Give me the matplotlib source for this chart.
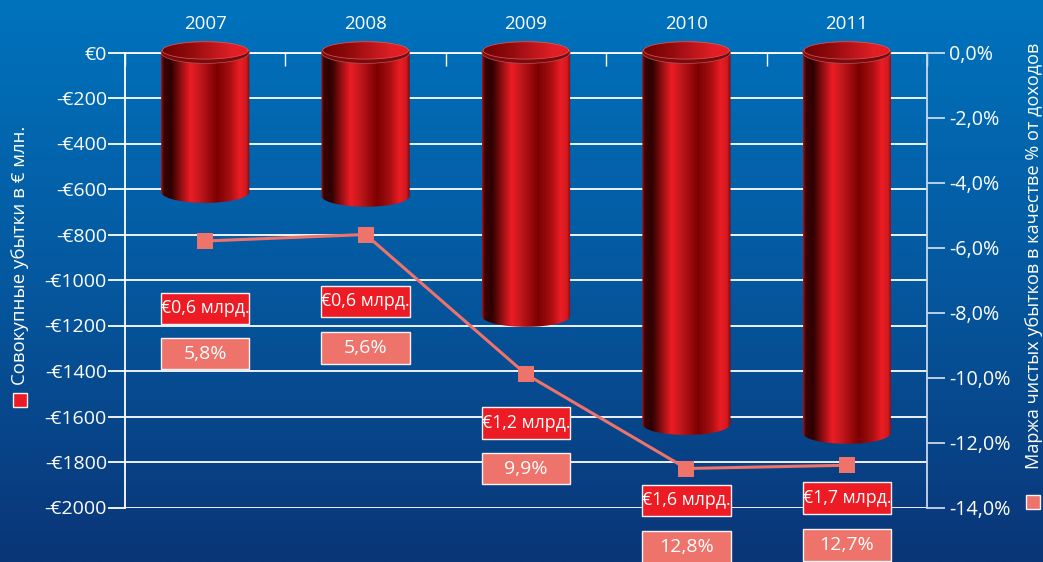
import numpy as np
import matplotlib
matplotlib.use('Agg')
import matplotlib.pyplot as plt
from matplotlib.colors import LinearSegmentedColormap
from matplotlib.patches import Ellipse, Rectangle
from matplotlib.path import Path

plt.rcParams['font.family'] = ['Open Sans', 'DejaVu Sans']

years = ['2007', '2008', '2009', '2010', '2011']
losses = [613, 630, 1158, 1633, 1672]	# mln euro
margins = [-5.8, -5.6, -9.9, -12.8, -12.7]
loss_labels = ['€0,6 млрд.', '€0,6 млрд.', '€1,2 млрд.', '€1,6 млрд.', '€1,7 млрд.']
margin_labels = ['5,8%', '5,6%', '9,9%', '12,8%', '12,7%']
left_ticks = [0, -200, -400, -600, -800, -1000, -1200, -1400, -1600, -1800, -2000]
right_ticks = [0, -2, -4, -6, -8, -10, -12, -14]

# layout of the label boxes, in left axis units (top edge)
loss_box_top = [-1055, -1025, -1560, -1900, -1890]
margin_box_top = [-1255, -1230, -1760, -2105, -2095]

W, H = 1043, 562
WHITE = '#ffffff'
PALE = '#c9d8ea'
RED = '#ed1c24'
PINK = '#ee736b'

fig = plt.figure(figsize=(W / 100, H / 100), dpi=100)

# background gradient
ax_bg = fig.add_axes([0, 0, 1, 1])
bg_cmap = LinearSegmentedColormap.from_list('bg', ['#0073bd', '#05589f', '#0a3577'])
ax_bg.imshow(np.linspace(0, 1, 256).reshape(-1, 1), aspect='auto', cmap=bg_cmap)
ax_bg.axis('off')

x0, x1 = 125, 927
y0, y1 = 52.5, 507.5
ax = fig.add_axes([x0 / W, 1 - y1 / H, (x1 - x0) / W, (y1 - y0) / H])
ax.set_facecolor('none')
ax.set_xlim(-0.5, 4.5)
ax.set_ylim(-2000, 0)

# axes
ax.set_yticks(left_ticks)
ax.set_yticklabels(['€0' if v == 0 else '-€%d' % -v for v in left_ticks], fontsize=14, color=WHITE)
ax.tick_params(axis='y', length=12, width=1.3, color=WHITE, pad=1)
ax.grid(axis='y', color=WHITE, linewidth=1.3, zorder=1)
ax.set_axisbelow(True)
ax.xaxis.tick_top()
ax.set_xticks(np.arange(-0.5, 4.6, 1))
ax.set_xticklabels([])
ax.tick_params(axis='x', which='major', direction='in', length=9, width=1.0, color=WHITE)
ax.set_xticks(range(5), minor=True)
ax.set_xticklabels(years, minor=True, fontsize=13.5, color=WHITE)
ax.tick_params(axis='x', which='minor', length=0, pad=14)
for side in ['top', 'left']:
	ax.spines[side].set_color(WHITE)
	ax.spines[side].set_linewidth(1.3)
ax.spines['bottom'].set_visible(False)
ax.spines['right'].set_visible(False)

ax2 = ax.twinx()
ax2.set_facecolor('none')
ax2.set_ylim(-14, 0)
ax2.set_yticks(right_ticks)
ax2.set_yticklabels([('%.1f%%' % v if v == 0 else '-%.1f%%' % -v).replace('.', ',') for v in right_ticks],
	fontsize=14.2, color=WHITE)
ax2.tick_params(axis='y', length=13, width=1.3, color=PALE, pad=3)
for side in ['top', 'left', 'bottom']:
	ax2.spines[side].set_visible(False)
ax2.spines['right'].set_color(PALE)
ax2.spines['right'].set_linewidth(1.3)

# cylinders
body_cmap = LinearSegmentedColormap.from_list('body', [
	(0.0, '#a01216'), (0.03, '#3a0202'), (0.11, '#2e0000'), (0.33, RED), (0.42, '#c81a1f'),
	(0.63, '#7c0000'), (0.78, '#a80f12'), (0.89, RED), (0.96, '#d01a20'), (1.0, '#7c0a0c')])
cap_cmap = LinearSegmentedColormap.from_list('cap', [(0, '#6e0000'), (0.3, '#8e0a0c'), (0.8, '#e01f26'), (1, RED)])
half_w = 0.275
half_h = 48.0	# ellipse half height in left axis units
inner_h = 38.0
t = np.linspace(0, np.pi, 60)
ramp = np.linspace(0, 1, 300).reshape(1, -1)

for i, loss in enumerate(losses):
	# body outline: front arc on top and on the bottom
	top_x = i + half_w * np.cos(t)
	top_y = -half_h * np.sin(t)
	bot_x = i - half_w * np.cos(t)
	bot_y = -loss - half_h * np.sin(t)
	verts = np.column_stack([np.r_[top_x, bot_x, top_x[0]], np.r_[top_y, bot_y, top_y[0]]])
	body = ax.imshow(ramp, extent=[i - half_w, i + half_w, -loss - half_h, 0], aspect='auto',
		cmap=body_cmap, zorder=3)
	body.set_clip_path(Path(verts), ax.transData)

	rim = Ellipse((i, 0), 2 * half_w, 2 * half_h, facecolor='#7a0a0d', edgecolor='#c84a4a',
		linewidth=0.5, zorder=4, clip_on=False)
	ax.add_patch(rim)
	cap_t = np.linspace(0, 2 * np.pi, 120)
	cap_verts = np.column_stack([i + 0.97 * half_w * np.cos(cap_t), 9 + inner_h * np.sin(cap_t)])
	cap = ax.imshow(ramp, extent=[i - half_w, i + half_w, -29, 47], aspect='auto', cmap=cap_cmap, zorder=5)
	cap.set_clip_box(fig.bbox)	# the cap stands above the top spine
	cap.set_clip_path(Path(cap_verts), ax.transData)
	ax.plot(cap_verts[:, 0], cap_verts[:, 1], color='#d65a5a', linewidth=0.5, zorder=6, clip_on=False)
ax.set_xlim(-0.5, 4.5)
ax.set_ylim(-2000, 0)

# margin line
ax2.plot(range(5), margins, color=PINK, linewidth=2.2, marker='s', markersize=12.2,
	markerfacecolor=PINK, markeredgewidth=0, zorder=7, clip_on=False)

# label boxes
box_w = 0.55
box_h = 138
for i in range(5):
	loss_box = (loss_box_top[i], RED, loss_labels[i], 12.8)
	margin_box = (margin_box_top[i], PINK, margin_labels[i], 14)
	for top, color, text, size in [loss_box, margin_box]:
		ax2.add_patch(Rectangle((i - box_w / 2, (top - box_h) * 14 / 2000), box_w, box_h * 14 / 2000,
			facecolor=color, edgecolor='#f2f2f2', linewidth=1.0, zorder=8, clip_on=False))
		ax2.text(i, (top - box_h / 2) * 14 / 2000, text, color=WHITE, fontsize=size, ha='center', va='center',
			zorder=9, clip_on=False)

# side legends
fig.text(20 / W, 1 - 255 / H, 'Совокупные убытки в € млн.', rotation=90, color=WHITE, fontsize=13.4,
	ha='center', va='center')
fig.add_artist(Rectangle((13 / W, 1 - 407 / H), 14 / W, 14 / H, transform=fig.transFigure,
	facecolor=RED, edgecolor='#f2f2f2', linewidth=1.0))
fig.text(1034 / W, 1 - 256 / H, 'Маржа чистых убытков в качестве % от доходов', rotation=90, color=WHITE,
	fontsize=13.1, ha='center', va='center')
fig.add_artist(Rectangle((1026 / W, 1 - 509 / H), 14 / W, 14 / H, transform=fig.transFigure,
	facecolor=PINK, edgecolor='#f2f2f2', linewidth=1.0))

fig.savefig('out.png', dpi=100)
